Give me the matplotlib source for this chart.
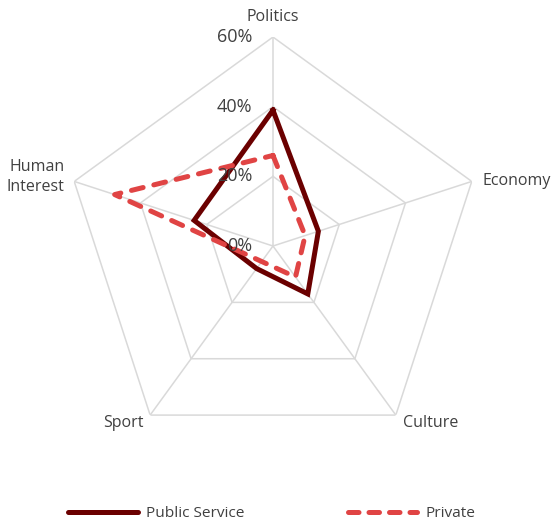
import numpy as np
import matplotlib
matplotlib.use("Agg")
import matplotlib.pyplot as plt
from matplotlib.lines import Line2D

plt.rcParams['font.family'] = ['Open Sans', 'DejaVu Sans']

# topic share per news category
categories = ['Politics', 'Economy', 'Culture', 'Sport', 'Human\nInterest']
public_service = [0.39, 0.137, 0.17, 0.08, 0.238]
private = [0.26, 0.097, 0.11, 0.055, 0.478]
ticks = [0.0, 0.2, 0.4, 0.6]
tick_labels = ['0%', '20%', '40%', '60%']

ps_color = '#6b0000'
pr_color = '#e04444'
grid_color = '#d9d9d9'
text_color = '#404040'

n = len(categories)
theta = np.linspace(0, 2 * np.pi, n, endpoint=False)
theta_c = np.append(theta, theta[0])

fig = plt.figure(figsize=(5.54, 5.25), dpi=100)
ax = fig.add_axes([0.1155, 0.1333, 0.7545, 0.7962], projection='polar')
ax.set_theta_offset(np.pi / 2)
ax.set_theta_direction(-1)
ax.set_ylim(0, 0.6)
ax.grid(False)
ax.spines['polar'].set_visible(False)
ax.set_xticks([])
ax.set_yticks([])
ax.patch.set_alpha(0)

# pentagon rings and spokes
for t in ticks[1:]:
    ax.plot(theta_c, [t] * (n + 1), color=grid_color, lw=1.1, zorder=1)
for th in theta:
    ax.plot([th, th], [0, 0.6], color=grid_color, lw=1.1, zorder=1)

ax.plot(theta_c, public_service + public_service[:1], color=ps_color, lw=3.6,
        solid_joinstyle='miter', zorder=3)
ax.plot(theta_c, private + private[:1], color=pr_color, lw=3.6,
        dashes=(2.4, 2.2), dash_capstyle='round', zorder=3)

# radial tick labels along the top spoke
for t, lab in zip(ticks, tick_labels):
    ax.annotate(lab, xy=(0, t), xytext=(-15, 0), textcoords='offset points',
                ha='right', va='center', fontsize=13, color=text_color, zorder=4)

# category labels around the outer ring
label_pos = [((0, 9), 'center', 'bottom'),
             ((8, 0), 'left', 'center'),
             ((5, -6), 'left', 'center'),
             ((-5, -6), 'right', 'center'),
             ((-7, 3), 'right', 'center')]
for th, lab, (off, ha, va) in zip(theta, categories, label_pos):
    ax.annotate(lab, xy=(th, 0.6), xytext=off, textcoords='offset points',
                ha=ha, va=va, fontsize=11.5, color=text_color, linespacing=1.35,
                annotation_clip=False)

handles = [Line2D([], [], color=ps_color, lw=3.6, solid_capstyle='round'),
           Line2D([], [], color=pr_color, lw=3.6, dashes=(2.1, 2.0),
                  dash_capstyle='round')]
leg = fig.legend(handles, ['Public Service', 'Private'], loc='center',
                 bbox_to_anchor=(0.491, 0.022), ncol=2, frameon=False,
                 handlelength=4.5, handletextpad=0.55, columnspacing=6.7,
                 fontsize=11.1, borderpad=0.1)
for txt in leg.get_texts():
    txt.set_color(text_color)

fig.savefig('out.png', dpi=100)
